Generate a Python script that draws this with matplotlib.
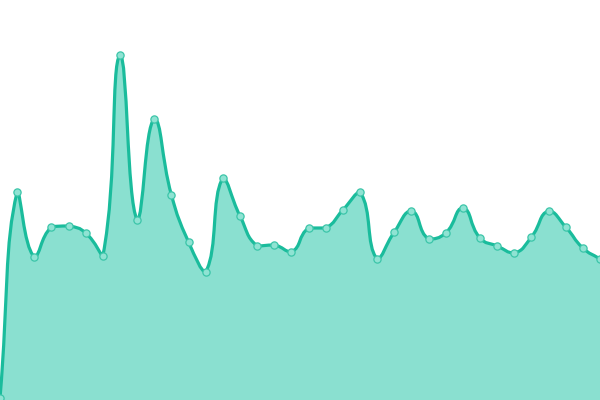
import matplotlib
matplotlib.use("Agg")
import matplotlib.pyplot as plt
import numpy as np
from matplotlib.path import Path
from matplotlib.patches import PathPatch


# values (pixel-like units, 0 at the bottom)
values = [2, 208, 143, 173, 174, 167, 144, 345, 180, 281, 205, 158, 128,
          222, 184, 154, 155, 148, 172, 172, 190, 208, 141, 168, 189, 161,
          167, 192, 162, 154, 147, 163, 189, 173, 152, 141]
positions = list(range(len(values)))

LINE = "#1abc9c"
FILL = "#8ae0d0"
SMOOTH = 0.5


def smooth_points(xs, ys, smooth=SMOOTH):
    # echarts-like bezier smoothing with clamped control points
    n = len(xs)
    verts = [(xs[0], ys[0])]
    codes = [Path.MOVETO]
    cps_next = []
    cps_prev = []
    for i in range(n):
        x, y = xs[i], ys[i]
        px, py = (xs[i - 1], ys[i - 1]) if i > 0 else (x, y)
        nx, ny = (xs[i + 1], ys[i + 1]) if i < n - 1 else (x, y)
        vx, vy = nx - px, ny - py
        len_prev = np.hypot(x - px, y - py)
        len_next = np.hypot(nx - x, ny - y)
        total = len_prev + len_next
        r_next = len_next / total if total else 0
        r_prev = len_prev / total if total else 0
        ncx = x + vx * smooth * r_next
        ncy = y + vy * smooth * r_next
        pcx = x - vx * smooth * r_prev
        pcy = y - vy * smooth * r_prev
        ncx = min(max(ncx, min(x, nx)), max(x, nx))
        ncy = min(max(ncy, min(y, ny)), max(y, ny))
        pcx = min(max(pcx, min(x, px)), max(x, px))
        pcy = min(max(pcy, min(y, py)), max(y, py))
        cps_next.append((ncx, ncy))
        cps_prev.append((pcx, pcy))
    for i in range(n - 1):
        verts += [cps_next[i], cps_prev[i + 1], (xs[i + 1], ys[i + 1])]
        codes += [Path.CURVE4] * 3
    return verts, codes


def main() -> None:
    fig = plt.figure(figsize=(6, 4), dpi=100)
    ax = fig.add_axes([0, 0, 1, 1])
    ax.set_xlim(0, 600)
    ax.set_ylim(0, 400)
    ax.axis("off")

    step = 600 / (len(values) - 1)
    xs = [p * step for p in positions]
    ys = list(values)
    verts, codes = smooth_points(xs, ys)

    fill_verts = verts + [(xs[-1], 0), (xs[0], 0), verts[0]]
    fill_codes = codes + [Path.LINETO, Path.LINETO, Path.CLOSEPOLY]
    ax.add_patch(PathPatch(Path(fill_verts, fill_codes), facecolor=FILL,
                           edgecolor="none", zorder=1))
    ax.add_patch(PathPatch(Path(verts, codes), facecolor="none",
                           edgecolor=LINE, linewidth=2.3, zorder=2))
    ax.plot(xs, ys, linestyle="none", marker="o", markersize=5.2,
            markerfacecolor="#8fe3d3", markeredgecolor="#3cc5a9",
            markeredgewidth=0.9, zorder=3)

    fig.savefig("out.png", dpi=100)
    plt.close(fig)


if __name__ == "__main__":
    main()
